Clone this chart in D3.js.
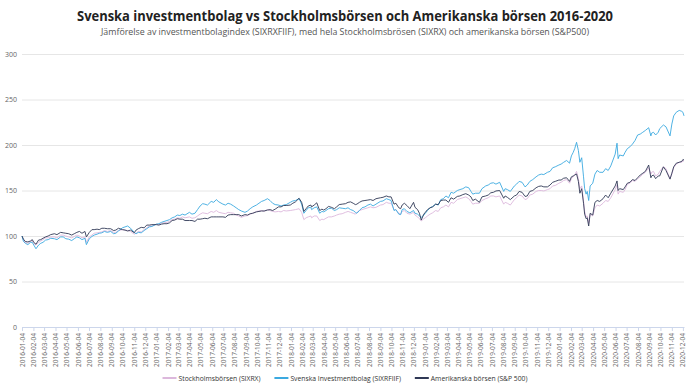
<!DOCTYPE html>
<html><head><meta charset="utf-8">
<script src="https://cdn.jsdelivr.net/npm/d3@7"></script>
<style>body{margin:0;background:#fff}svg{display:block}</style>
</head><body><svg id="c" width="690" height="388"></svg>
<script>
const titleText = "Svenska investmentbolag vs Stockholmsbörsen och Amerikanska börsen 2016-2020";
const subtitleText = "Jämförelse av investmentbolagindex (SIXRXFIIF), med hela Stockholmsbrösen (SIXRX) och amerikanska börsen (S&P500)";
const seriesNames = ["Stockholmsbörsen (SIXRX)", "Svenska Investmentbolag (SIXRFIIF)", "Amerikanska börsen (S&P 500)"];

const dates = [
"2016-01-04","2016-01-08","2016-01-13","2016-01-20","2016-01-27","2016-02-01","2016-02-05","2016-02-11","2016-02-18","2016-02-24","2016-03-01","2016-03-08","2016-03-15","2016-03-22","2016-04-01","2016-04-08","2016-04-18","2016-04-25","2016-05-02","2016-05-10","2016-05-18","2016-05-25","2016-06-01","2016-06-08","2016-06-15","2016-06-23","2016-06-27","2016-07-05","2016-07-12","2016-07-18","2016-07-26","2016-08-01","2016-08-08","2016-08-15","2016-08-23","2016-09-01","2016-09-09","2016-09-15","2016-09-22","2016-10-03","2016-10-10","2016-10-17","2016-10-25","2016-11-04","2016-11-09","2016-11-15","2016-11-23","2016-12-01","2016-12-08","2016-12-15","2016-12-22",
"2017-01-03","2017-01-10","2017-01-17","2017-01-24","2017-02-01","2017-02-08","2017-02-15","2017-02-22","2017-03-01","2017-03-08","2017-03-15","2017-03-22","2017-04-03","2017-04-10","2017-04-18","2017-04-25","2017-05-02","2017-05-09","2017-05-15","2017-05-22","2017-06-01","2017-06-08","2017-06-15","2017-06-22","2017-07-03","2017-07-10","2017-07-17","2017-07-24","2017-08-01","2017-08-08","2017-08-15","2017-08-22","2017-09-01","2017-09-08","2017-09-15","2017-09-22","2017-10-02","2017-10-09","2017-10-16","2017-10-23","2017-11-01","2017-11-08","2017-11-15","2017-11-22","2017-12-01","2017-12-08","2017-12-15","2017-12-22",
"2018-01-02","2018-01-09","2018-01-16","2018-01-26","2018-02-02","2018-02-08","2018-02-14","2018-02-20","2018-02-27","2018-03-01","2018-03-08","2018-03-15","2018-03-23","2018-03-29","2018-04-03","2018-04-09","2018-04-16","2018-04-24","2018-05-02","2018-05-08","2018-05-15","2018-05-23","2018-06-01","2018-06-08","2018-06-15","2018-06-22","2018-06-28","2018-07-02","2018-07-09","2018-07-16","2018-07-24","2018-08-01","2018-08-08","2018-08-15","2018-08-23","2018-09-04","2018-09-11","2018-09-20","2018-09-27","2018-10-03","2018-10-11","2018-10-16","2018-10-24","2018-10-29","2018-11-02","2018-11-08","2018-11-15","2018-11-23","2018-12-03","2018-12-07","2018-12-14","2018-12-19","2018-12-24","2018-12-31",
"2019-01-04","2019-01-10","2019-01-17","2019-01-24","2019-02-01","2019-02-08","2019-02-15","2019-02-22","2019-03-01","2019-03-08","2019-03-15","2019-03-22","2019-04-01","2019-04-08","2019-04-16","2019-04-24","2019-05-02","2019-05-08","2019-05-13","2019-05-20","2019-05-31","2019-06-07","2019-06-17","2019-06-24","2019-07-01","2019-07-08","2019-07-15","2019-07-25","2019-08-05","2019-08-09","2019-08-15","2019-08-23","2019-09-03","2019-09-09","2019-09-16","2019-09-24","2019-10-02","2019-10-08","2019-10-15","2019-10-23","2019-11-01","2019-11-08","2019-11-15","2019-11-22","2019-12-02","2019-12-09","2019-12-16","2019-12-23",
"2020-01-02","2020-01-08","2020-01-15","2020-01-23","2020-01-31","2020-02-05","2020-02-10","2020-02-14","2020-02-19","2020-02-24","2020-02-28","2020-03-04","2020-03-09","2020-03-12","2020-03-16","2020-03-19","2020-03-23","2020-03-27","2020-04-03","2020-04-09","2020-04-15","2020-04-22","2020-05-01","2020-05-08","2020-05-15","2020-05-22","2020-06-03","2020-06-08","2020-06-11","2020-06-15","2020-06-25","2020-06-30","2020-07-06","2020-07-13","2020-07-20","2020-07-27","2020-08-03","2020-08-10","2020-08-17","2020-08-24","2020-09-02","2020-09-08","2020-09-10","2020-09-15","2020-09-21","2020-09-28","2020-10-02","2020-10-12","2020-10-19","2020-10-30","2020-11-04","2020-11-09","2020-11-16","2020-11-24","2020-12-01","2020-12-04","2020-12-07"
];

const sixrx = [
100,95,93,92,94, 95,92,90,93,94.5, 96,98,98,99, 99,98,101,101, 100,99,98,99.5, 101,100,98,99,93, 99,101,103,103.5, 104,104.5,106,105, 106,104,104,106, 107,106.5,106,105, 102,103,105,104.5, 107,109,111,111,
113,112.5,114,114.5, 115,116,118,118.5, 120,119.5,121,120, 121,119.5,120,122, 124,125.5,125,124.5, 127,126,128,126, 125,124.5,126,125.5, 125,123,122,120.5, 122,122.5,124,125, 127,127.5,128,127, 129,128,127,126.5, 127,126.5,128,127.5,
128,128.5,129,130, 126,118,120,121,122, 120,122,122,117,118.5, 118,119.5,121,121, 122,123,124,124.5, 126,127,126,125,124, 126,128,129,130, 131,132,131,131.5, 134,134.5,137,136, 136,129,129,125,124, 127,128,125,124, 126,123,121,119,116.5,119,
120,122,124,125.5, 128,127,131,132, 134,132,137,136, 140,141,142,143, 141,138,135,136,136, 139,141,142, 144,144,143,144, 135,137,136,134, 140,142,145,144, 140,141,145,146, 149,150,150,149.5, 151,152,155,155.5,
158,159,161,162,158, 163,165,167,171,163,152, 155,138,127,121,122,114,124, 122,131,134,133, 136,139,138,142, 151,156,146,149,148,151, 157,158,161,160, 163,165,168,170, 175,168,170,171,166,168, 171,176,174,163, 168,175,179,181, 181,183,182
];

const sixrfiif = [
100,94,92,90.5,93, 93,90,86,90,92, 93,95.5,96,97.5, 97,96,99,99, 97,96.5,95,97, 99,98,96,97.5,90.5, 97,99.5,101,102, 103,103.5,105,104, 105,102.5,103,105.5, 109,110,111,108.5, 104,102.5,104,103.5, 106,108,110,110.5,
113,113.5,115,116, 117,118,120,121, 123,122.5,124,123, 126,124,125,129, 133,135.5,135,134, 138,137,140,137.5, 135,134,136,135, 133,131,129,127.5, 126,127.5,130,132, 134,136,138,139, 141,139,136,134.5, 134,133,134,134.5,
137,138.5,139,141, 135,125,128,131,131.5, 129,131,132,125,127, 126.5,128,130,130.5, 128,129,131,130.5, 130,131,129,128,126, 125,128,131,132, 134,135,133,135, 138,138.5,141,140, 139,128,129,124,123.5, 129,130,127,125.5, 128,125,124,122,120.5,123,
125,128,131,132.5, 135,134,140,141, 144,142,148,147, 150,151,152,154, 153,149,146,147,147, 152,155,156, 158,158.5,157,159, 149,152,151,149, 155,157,160,159, 154,156,160,162, 165,167,168,167.5, 170,171,175,176,
178,179,181,183,180, 188,192,196,203,194,181, 186,165,152,146,149,139,155, 158,168,172,170, 170,174,172,177, 190,202,185,189,188,192, 196,198,201,205, 211,212,214,216, 219,210,213,214,211,214, 218,222,220,210, 223,232,236,238, 237,236,232
];

const sp500 = [
100,96.5,94,93.5,94.5, 96,93,91,95.5,96, 97.5,99,100,101.5, 102.5,101.5,104,103.5, 103,102.5,101,102.5, 104,105,103,105,99, 104,107,107,107.5, 107,108.5,108.5,108, 108,106,106.5,108.5, 107,106.5,105.5,106.5, 103.6,106.5,108,109.5, 109,112,112,112.5,
112.5,112,113,113.5, 113.5,114.5,117,117.5, 119,118.5,118.5,117, 117,117,116,118.5, 118.5,119,119.5,119, 121,121,121,121, 121,120.5,123,123.5, 123.5,123.5,123.5,122, 123.5,123,124.5,125, 126.5,127,127.5,127.5, 128.5,129,128,129.5, 132,132,133.5,133.5,
134,136,137.5,141.5, 137,127,130,133,134, 132,134,136.5,128,129.5, 128.5,130,132.5,131.5, 130,132,134.5,135, 135.5,137,137.5,136,134.5, 135,137,138.5,139, 139.5,140,139,141, 142,142.5,144,143, 143,135,136,131,130, 134,136,133.5,130, 137,131.5,129,125,117.5,124,
126,129,131,132, 135,134.5,139,139.5, 139.5,137,142,140.5, 143.5,144,145.5,146.5, 145,143,139,140.5,137, 143,144,145, 147.5,148,149.5,150, 141.5,144,142.5,140, 144,145,149,148, 143.5,144,149,150, 153,154.5,155,154, 154,156,159,160,
161.5,161.5,163.5,164,160, 165,166,167,168.2,160,147, 152,136,124,119,120,111,125, 123,137,139,138, 141,145,142,147, 155,160.5,150,152,151,154, 158,159,162,161, 164,167,169,171, 178,164,166,167,163,166, 166,176,172,162.5, 169,176,180,181, 182,184,183.5
];

const tickLabels = [
"2016-01-04","2016-02-04","2016-03-04","2016-04-04","2016-05-04","2016-06-04","2016-07-04","2016-08-04","2016-09-04","2016-10-04","2016-11-04","2016-12-04",
"2017-01-04","2017-02-04","2017-03-04","2017-04-04","2017-05-04","2017-06-04","2017-07-04","2017-08-04","2017-09-04","2017-10-04","2017-11-04","2017-12-04",
"2018-01-04","2018-02-04","2018-03-04","2018-04-04","2018-05-04","2018-06-04","2018-07-04","2018-08-04","2018-09-04","2018-10-04","2018-11-04","2018-12-04",
"2019-01-04","2019-02-04","2019-03-04","2019-04-04","2019-05-04","2019-06-04","2019-07-04","2019-08-04","2019-09-04","2019-10-04","2019-11-04","2019-12-04",
"2020-01-04","2020-02-04","2020-03-04","2020-04-04","2020-05-04","2020-06-04","2020-07-04","2020-08-04","2020-09-04","2020-10-04","2020-11-04","2020-12-04"
];
const yTicks = [0,50,100,150,200,250,300];

const colors = ["#dcb8dc", "#3ba9e0", "#303956"];
const parse = d3.utcParse("%Y-%m-%d");
const svg = d3.select("#c");
const font = "'Open Sans', 'Noto Sans', sans-serif";

const x = d3.scaleUtc().domain([parse("2016-01-04"), parse("2020-12-07")]).range([22, 684]);
const y = d3.scaleLinear().domain([0, 300]).range([327, 54]);

// title
svg.append("text").attr("x", 345).attr("y", 21).attr("text-anchor", "middle")
  .attr("font-family", font).attr("font-weight", "bold").attr("font-size", 14.5)
  .attr("fill", "#222").attr("textLength", 536).attr("lengthAdjust", "spacingAndGlyphs").text(titleText);
svg.append("text").attr("x", 345).attr("y", 35).attr("text-anchor", "middle")
  .attr("font-family", font).attr("font-size", 9.5)
  .attr("fill", "#555").attr("textLength", 488).attr("lengthAdjust", "spacingAndGlyphs").text(subtitleText);

// grid + y axis
const yAxis = d3.axisLeft(y).tickValues(yTicks).tickSize(-(684 - 22)).tickPadding(4);
const gy = svg.append("g").attr("transform", "translate(22,0)").call(yAxis);
gy.select(".domain").remove();
gy.selectAll(".tick line").attr("stroke", "#e6e6e6").attr("stroke-width", 1);
gy.selectAll(".tick").filter(d => d === 0).select("line").attr("stroke", "#ccd6eb");
gy.selectAll(".tick text").attr("font-family", font).attr("font-size", 7).attr("fill", "#666").attr("x", -5);

// x axis
const xAxis = d3.axisBottom(x).tickValues(tickLabels.map(parse)).tickFormat(d3.utcFormat("%Y-%m-%d")).tickSize(4).tickSizeOuter(0);
const gx = svg.append("g").attr("transform", "translate(0,327)").call(xAxis);
gx.select(".domain").attr("stroke", "#ccd6eb");
gx.selectAll(".tick line").attr("stroke", "#ccd6eb");
gx.selectAll(".tick text").attr("font-family", font).attr("font-size", 6.5).attr("fill", "#666")
  .attr("transform", "rotate(-90)").attr("text-anchor", "end").attr("x", -6).attr("y", 0).attr("dy", "0.32em");

// lines
const seriesList = [sixrx, sixrfiif, sp500];
const line = d3.line().defined(d => d != null && !isNaN(d)).x((d, i) => x(parse(dates[i]))).y(d => y(d));
seriesList.forEach((s, k) => {
  svg.append("path").datum(s.slice(0, dates.length)).attr("d", line).attr("fill", "none")
    .attr("stroke", colors[k]).attr("stroke-width", 0.9).attr("stroke-linejoin", "round");
});

// legend (centred, spanning about 163..528 like the reference)
const legendY = 378;
const lg = svg.append("g");
const items = seriesNames.map((n, k) => {
  const g = lg.append("g");
  g.append("line").attr("x1", 0).attr("x2", 14).attr("y1", 0).attr("y2", 0).attr("stroke", colors[k]).attr("stroke-width", 2);
  const t = g.append("text").attr("x", 16).attr("y", 0).attr("dy", "0.35em").attr("font-family", font)
    .attr("font-size", 7.5).attr("fill", "#333").text(n);
  return {g, t, nat: t.node().getComputedTextLength()};
});
const squeeze = 82 / items[0].nat;
items.forEach(it => { it.tw = it.nat * squeeze; it.t.attr("textLength", it.tw).attr("lengthAdjust", "spacingAndGlyphs"); it.w = 16 + it.tw; });
const span = 365;
const gap = (span - d3.sum(items, d => d.w)) / (items.length - 1);
let cx = 345 - span / 2;
items.forEach(it => { it.g.attr("transform", `translate(${cx},${legendY})`); cx += it.w + gap; });
</script></body></html>
